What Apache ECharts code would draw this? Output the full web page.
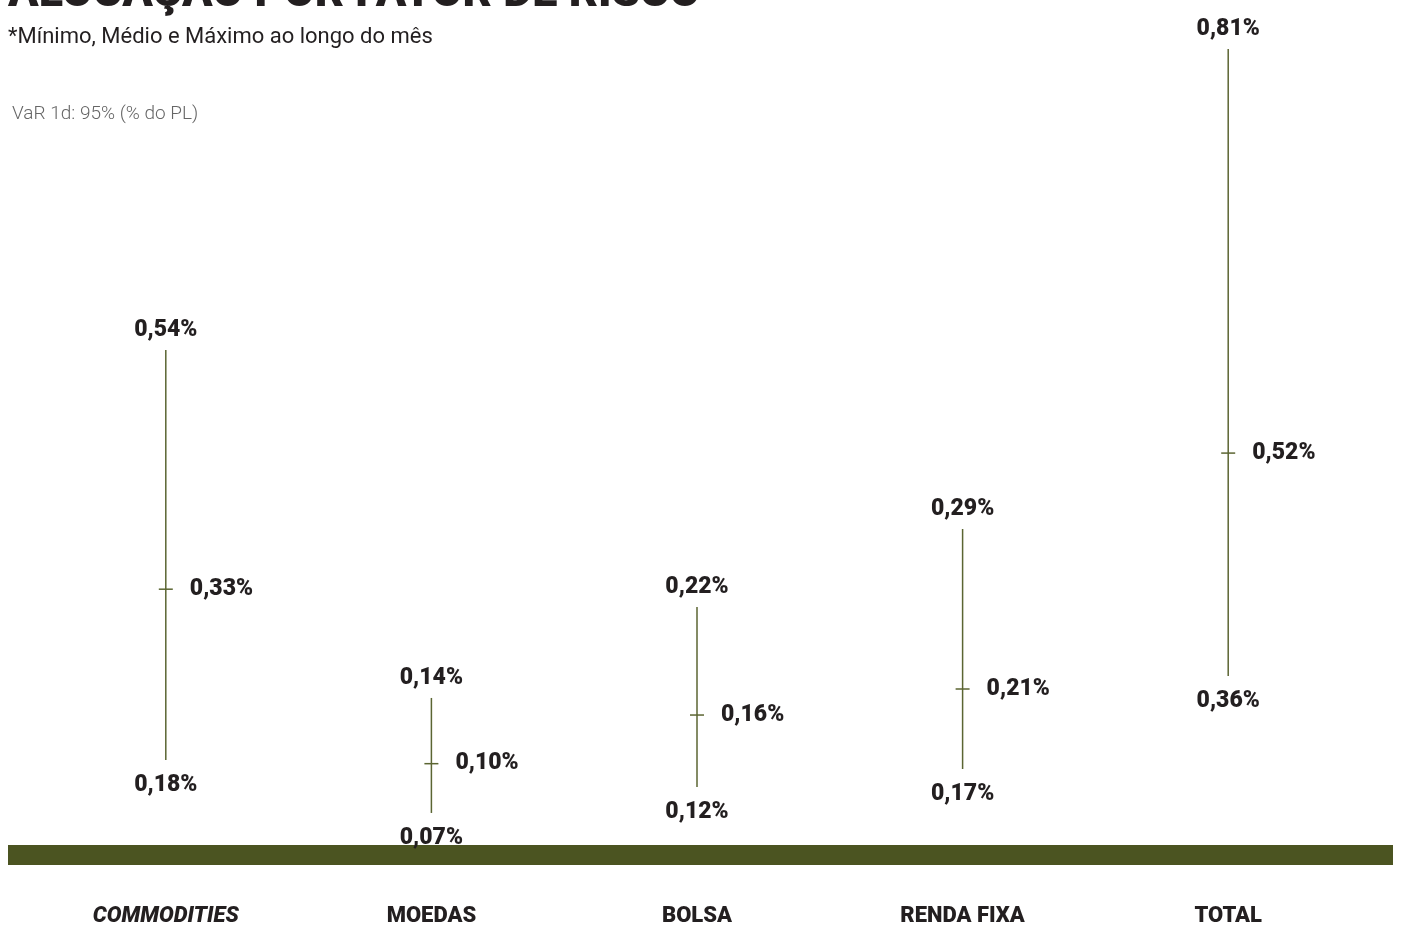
<!DOCTYPE html>
<html>
<head>
<meta charset="utf-8">
<title>Alocação por fator de risco</title>
<script src="https://cdn.jsdelivr.net/npm/echarts@6/dist/echarts.min.js"></script>
</head>
<body style="margin:0;background:#fff">
<div id="main" style="width:1401px;height:928px;"></div>
<script>
var categories = ['COMMODITIES', 'MOEDAS', 'BOLSA', 'RENDA FIXA', 'TOTAL'];
var minVals = [0.18, 0.07, 0.12, 0.17, 0.36];
var medVals = [0.33, 0.10, 0.16, 0.21, 0.52];
var maxVals = [0.54, 0.14, 0.22, 0.29, 0.81];

// the original draws every column on its own vertical scale
var axisMin = [0.1054, 0.0505, 0.0878, 0.132, 0.2387];
var axisMax = [0.8122, 0.5405, 0.535, 0.5345, 0.8165];

var myChart = echarts.init(document.getElementById('main'));

function fmt(v) {
    return v.toFixed(2).replace('.', ',') + '%';
}

var lineStyle = { stroke: '#5b6532', lineWidth: 1.5 };
var labelFont = '900 23px Roboto, sans-serif';
var textColor = '#231f20';

function renderRange(params, api) {
    var x = api.value(0);
    var lo = api.coord([x, api.value(1)]);
    var mid = api.coord([x, api.value(2)]);
    var hi = api.coord([x, api.value(3)]);
    return {
        type: 'group',
        children: [
            { type: 'line', shape: { x1: hi[0], y1: hi[1], x2: lo[0], y2: lo[1] }, style: lineStyle },
            { type: 'line', shape: { x1: mid[0] - 7, y1: mid[1], x2: mid[0] + 7, y2: mid[1] }, style: lineStyle },
            { type: 'text', style: { text: fmt(api.value(3)), x: hi[0], y: hi[1] - 20, align: 'center', verticalAlign: 'middle', font: labelFont, fill: textColor } },
            { type: 'text', style: { text: fmt(api.value(1)), x: lo[0], y: lo[1] + 25, align: 'center', verticalAlign: 'middle', font: labelFont, fill: textColor } },
            { type: 'text', style: { text: fmt(api.value(2)), x: mid[0] + 24, y: mid[1], align: 'left', verticalAlign: 'middle', font: labelFont, fill: textColor } }
        ]
    };
}

var option = {
    backgroundColor: '#ffffff',
    animation: false,
    grid: { left: 33, right: 40, top: 40, bottom: 83 },
    xAxis: {
        type: 'category',
        data: categories,
        axisLine: { show: false },
        axisTick: { show: false },
        splitLine: { show: false },
        axisLabel: {
            margin: 60,
            fontFamily: 'Roboto, sans-serif',
            fontSize: 22,
            fontWeight: 900,
            color: textColor,
            formatter: function (v) {
                return v === 'COMMODITIES' ? '{it|' + v + '}' : v;
            },
            rich: {
                it: { fontStyle: 'italic', fontWeight: 900, fontSize: 22, fontFamily: 'Roboto, sans-serif', color: textColor }
            }
        }
    },
    yAxis: categories.map(function (c, i) {
        return { type: 'value', min: axisMin[i], max: axisMax[i], show: false };
    }),
    graphic: [
        {
            type: 'text', left: 8, top: -28,
            style: { text: 'ALOCAÇÃO POR FATOR DE RISCO', font: '900 45px Roboto, sans-serif', fill: textColor }
        },
        {
            type: 'text', left: 8, top: 26,
            style: { text: '*Mínimo, Médio e Máximo ao longo do mês', font: '22px Roboto, sans-serif', fill: '#231f20' }
        },
        {
            type: 'text', left: 12, top: 105,
            style: { text: 'VaR 1d: 95% (% do PL)', font: '300 19px Roboto, sans-serif', fill: '#666666' }
        },
        {
            type: 'rect', left: 8, top: 845,
            shape: { width: 1385, height: 20 },
            style: { fill: '#4b5421' }
        }
    ],
    series: categories.map(function (c, i) {
        return {
            type: 'custom',
            name: c,
            xAxisIndex: 0,
            yAxisIndex: i,
            clip: false,
            renderItem: renderRange,
            data: [[i, minVals[i], medVals[i], maxVals[i]]]
        };
    })
};

myChart.setOption(option);
</script>
</body>
</html>
